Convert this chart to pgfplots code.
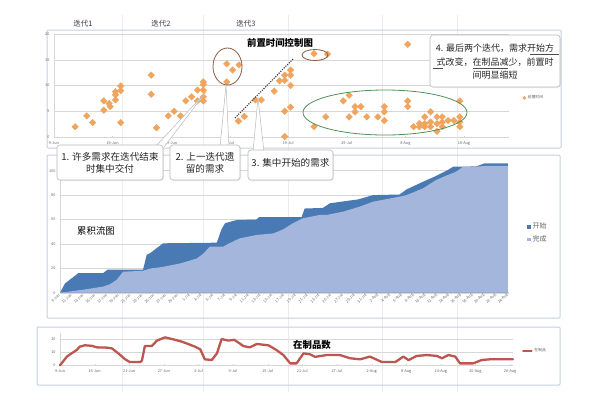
\documentclass[border=0pt]{standalone}
\usepackage{pgfplots}
\pgfplotsset{compat=1.18}
\usepackage{fontspec}
\setmainfont{Noto Sans CJK SC}
\usetikzlibrary{shadows}
\definecolor{orng}{RGB}{240,165,95}
\definecolor{dblue}{RGB}{74,122,180}
\definecolor{lblue}{RGB}{164,182,220}
\definecolor{wipred}{RGB}{190,86,80}
\definecolor{panelc}{RGB}{196,210,224}
\definecolor{gridc}{RGB}{215,215,215}
\definecolor{tickc}{RGB}{100,100,100}
\definecolor{boxc}{RGB}{185,185,185}
\definecolor{ellg}{RGB}{80,145,85}
\definecolor{ellr}{RGB}{140,90,70}

\pgfplotsset{
  panelaxis/.style={
    scale only axis,
    axis lines=left,
    axis line style={draw=gridc, -},
    ymajorgrids, grid style={draw=gridc, line width=0.5pt},
    tick label style={font=\fontsize{3.8}{4}\selectfont, text=tickc},
    /pgf/number format/assume math mode=true,
    xtick style={draw=gridc}, ytick style={draw=none},
    major tick length=2pt,
    clip=false,
  }
}

\begin{document}
\begin{tikzpicture}
\path[use as bounding box] (0pt,0pt) rectangle (600pt,-400pt);
\fill[white] (0pt,0pt) rectangle (600pt,-400pt);
\begin{scope}[x=1pt,y=-1pt]
 \foreach \xx in {122,203,288,382,457} \draw[gray!15, line width=0.6pt] (\xx,15) -- (\xx,392);
 \draw[panelc, line width=1pt, rounded corners=1pt] (47,30) rectangle (561,148);
 \draw[panelc, line width=1pt, rounded corners=1pt] (47,155) rectangle (560,318);
 \draw[panelc, line width=1pt, rounded corners=1pt] (37,327) rectangle (560,385);
 \node[font=\fontsize{7.5}{8}\selectfont, text=black!75] at (83,24) {迭代1};
 \node[font=\fontsize{7.5}{8}\selectfont, text=black!75] at (161,24) {迭代2};
 \node[font=\fontsize{7.5}{8}\selectfont, text=black!75] at (246,24) {迭代3};
\end{scope}

% ---------- top: lead time control chart ----------
\begin{axis}[panelaxis, at={(54pt,-137pt)}, anchor=south west,
  width=455pt, height=103pt, xmin=0, xmax=77.7, ymin=0, ymax=20,
  xtick={0,10,...,70},
  xticklabels={9-Jun,19-Jun,29-Jun,9-Jul,19-Jul,29-Jul,8-Aug,18-Aug},
  ytick={0,5,...,20},
  legend style={at={(1.03,0.38)}, anchor=west, draw=none, fill=none,
    font=\fontsize{3.8}{4}\selectfont, text=tickc, inner sep=0pt},
  legend image post style={mark size=1.1pt}]
\addplot[only marks, mark=square*, mark size=2.3pt, mark options={fill=orng, draw=orng, rotate=45}] coordinates {
(3.6,2.0) (5.6,4.1) (6.6,2.8) (8.5,7.0) (8.5,5.2) (9.4,6.5) (9.6,5.9) (10.5,7.2) (10.5,8.8) (10.5,8.2)
(11.4,9.9) (11.4,9.0) (11.4,2.8) (16.6,12.0) (16.6,8.3) (17.5,1.8) (19.5,4.1) (20.5,5.0) (21.6,4.1)
(22.5,7.0) (23.5,7.8) (24.5,9.1) (24.5,7.0) (25.5,10.7) (25.5,10.2) (25.5,9.1) (25.5,7.8) (25.5,7.0)
(29.5,14.2) (30.5,13.0) (29.5,10.7) (31.6,14.0) (31.5,3.1) (32.5,4.0) (34.4,7.2) (35.4,7.2) (37.6,8.9)
(38.5,10.9) (39.4,12.0) (39.4,11.0) (40.4,13.0) (40.4,12.0) (40.4,10.0) (40.4,5.8) (39.4,5.0) (39.4,0.1)
(44.4,16.2) (46.7,16.1) (60.4,18.0) (44.4,2.0) (46.4,3.9) (49.4,7.0) (50.4,8.1) (50.4,3.9) (51.4,5.9)
(51.4,4.9) (52.4,5.9) (53.4,3.9) (55.3,3.9) (56.4,5.9) (56.4,4.9) (56.4,3.2) (60.4,7.0) (60.4,5.9)
(61.4,2.0) (62.4,2.6) (62.4,2.0) (63.3,3.9) (63.3,2.6) (63.3,2.0) (64.3,4.9) (64.3,2.9) (64.3,2.0)
(65.4,3.9) (65.4,2.6) (65.4,1.1) (66.3,3.9) (66.3,2.9) (66.3,2.0) (67.3,3.2) (68.3,3.2) (69.3,7.0)
(69.3,3.9) (69.3,2.9) (69.3,2.0)};
\addlegendentry{前置时间}
\end{axis}

% ---------- middle: cumulative flow ----------
\begin{axis}[panelaxis, at={(60pt,-292.7pt)}, anchor=south west,
  width=448pt, height=134.2pt, xmin=0, xmax=76, ymin=0, ymax=110,
  xtick={0,2,...,76},
  xticklabels={9-Jun,11-Jun,13-Jun,15-Jun,17-Jun,19-Jun,21-Jun,23-Jun,25-Jun,27-Jun,29-Jun,1-Jul,3-Jul,5-Jul,7-Jul,9-Jul,11-Jul,13-Jul,15-Jul,17-Jul,19-Jul,21-Jul,23-Jul,25-Jul,27-Jul,29-Jul,31-Jul,2-Aug,4-Aug,6-Aug,8-Aug,10-Aug,12-Aug,14-Aug,16-Aug,18-Aug,20-Aug,22-Aug,24-Aug},
  xticklabel style={rotate=45, anchor=east, inner sep=0.8pt},
  ytick={0,20,...,100},
  legend image code/.code={\fill[#1] (0pt,-1.9pt) rectangle (3.8pt,1.9pt);},
  legend style={at={(1.035,0.444)}, anchor=west, draw=none, fill=none,
    font=\fontsize{7}{8}\selectfont, text=tickc, row sep=1.5pt},
  legend cell align=left]
\addplot[fill=dblue, draw=none] coordinates {
(0,0) (0.85,7.6) (1.5,10) (3.1,16) (7.3,16) (8.1,19) (14.1,19) (14.7,31) (15.3,32.5) (17.5,40.5)
(26.6,41) (27.4,52) (28,57) (30,59.6) (33.3,60) (33.8,62) (41,62) (41.5,69) (44.6,69.5) (45.8,73.3)
(48,74.8) (50.6,76.5) (53.1,80) (57.6,80.5) (58.8,84.7) (61.6,91) (63.8,95.7) (65.8,100.6)
(66.7,103.3) (70.6,103.5) (72,106) (76,106)} \closedcycle;
\addlegendentry{开始}
\addplot[fill=lblue, draw=none] coordinates {
(0,0) (1.7,1) (4,2.5) (7.3,5) (8.5,7) (9.6,10.5) (10.7,17.2) (14.1,18) (15.3,19.8) (17.5,21.2)
(20.3,23.9) (23.2,28) (24.3,32) (25.4,37.7) (27.7,37.7) (28.5,40) (30.5,44.6) (33.3,47.3) (36.2,48.6)
(37.9,52) (39.5,56.9) (41.2,61) (44,63.7) (45.2,63.7) (48,66.4) (50.8,70.5) (53.1,74.6) (54.5,75.9)
(57.6,78.7) (58.8,80) (61.6,85.6) (63.8,92.4) (65.8,96.5) (67.2,99.2) (68.4,103.3) (70.6,103.3)
(72.3,104) (76,104)} \closedcycle;
\addlegendentry{完成}
\end{axis}

% ---------- bottom: WIP ----------
\begin{axis}[panelaxis, at={(60pt,-365.3pt)}, anchor=south west,
  width=453pt, height=32.5pt, xmin=0, xmax=78.5, ymin=0, ymax=25,
  xtick={0,6,...,78},
  xticklabels={9-Jun,15-Jun,21-Jun,27-Jun,3-Jul,9-Jul,15-Jul,21-Jul,27-Jul,2-Aug,8-Aug,14-Aug,20-Aug,26-Aug},
  ytick={0,10,20},
  legend image code/.code={\draw[#1, line width=1.2pt] (0pt,0pt) -- (9pt,0pt);},
  legend style={at={(1.02,0.44)}, anchor=west, draw=none, fill=none,
    font=\fontsize{3.8}{4}\selectfont, text=tickc, inner sep=0pt}]
\addplot[wipred, line width=2.3pt, line join=round, line cap=round] coordinates {
(0,0) (1.2,6.7) (2,9.2) (2.9,11.8) (3.4,14.3) (4.3,15.4) (5.5,15) (6.4,13.8) (8.1,13.6) (9,13)
(10.1,9.2) (11.3,4.6) (12.1,2.5) (13.9,2.5) (14.2,3.6) (14.7,14.8) (15.9,14.8) (16.8,19) (18.2,21.5)
(19.6,20) (21.1,18.2) (22.2,16.4) (23.4,14.3) (24.3,12.3) (25.1,4.6) (26.3,4.1) (27.2,9.2) (28,20.2)
(29.2,19) (30.2,19.6) (31.8,14.8) (32.9,13.8) (34.1,16.4) (36.1,15.4) (37.5,11.8) (38.7,7.9)
(39.9,1.5) (41,1.5) (42.2,9.2) (43.3,8.5) (44.2,6.5) (46.2,7.9) (48.5,7.9) (50.3,5.4) (52,4.6)
(53.7,6.7) (55.8,2.5) (58.1,2.5) (59.5,6.7) (60.4,4) (61.8,7.2) (63.6,7.9) (65.3,7.2) (66.2,5.4)
(67.3,7.9) (68.5,6.7) (69.3,1.5) (71.6,1.5) (73.1,4.1) (74.5,4.6) (78.5,4.6)};
\addlegendentry{在制品}
\end{axis}

% ---------- annotations ----------
\begin{scope}[x=1pt,y=-1pt]
 \node[font=\fontsize{9.4}{10}\selectfont\bfseries] at (280,43) {前置时间控制图};
 \node[font=\fontsize{9.4}{10}\selectfont] at (96,231) {累积流图};
 \node[font=\fontsize{9.4}{10}\selectfont\bfseries] at (312,345) {在制品数};
 \draw[black!75, dash pattern=on 1.2pt off 1.2pt, line width=1.1pt] (235,118) -- (293,59);
 \draw[ellr, line width=0.8pt] (227.5,66.5) ellipse [x radius=14.5, y radius=18.5];
 \draw[ellr, line width=0.8pt] (315,55) ellipse [x radius=13, y radius=5.5];
 \draw[ellg, line width=0.8pt] (385,112.5) ellipse [x radius=82, y radius=22.5];
 % pointers
 \filldraw[fill=white, draw=boxc, line width=0.5pt] (155,147) -- (206,92) -- (164,147);
 \filldraw[fill=white, draw=boxc, line width=0.5pt] (220,147) -- (226,85) -- (229,147);
 \filldraw[fill=white, draw=boxc, line width=0.5pt] (253,152) -- (258,98) -- (264,152);
 % boxes
 \filldraw[fill=white, draw=boxc, line width=0.6pt, rounded corners=3pt,
   drop shadow={opacity=0.15, shadow xshift=1pt, shadow yshift=-1pt}] (57,145) rectangle (163,180);
 \filldraw[fill=white, draw=boxc, line width=0.6pt, rounded corners=3pt,
   drop shadow={opacity=0.15, shadow xshift=1pt, shadow yshift=-1pt}] (170,145) rectangle (240,180);
 \filldraw[fill=white, draw=boxc, line width=0.6pt, rounded corners=3pt,
   drop shadow={opacity=0.15, shadow xshift=1pt, shadow yshift=-1pt}] (248,150) rectangle (333,180);
 \filldraw[fill=white, draw=boxc, line width=0.6pt, rounded corners=3pt,
   drop shadow={opacity=0.15, shadow xshift=1pt, shadow yshift=-1pt}] (430,35) rectangle (560,87);
 \begin{scope}[every node/.style={font=\fontsize{9.6}{10}\selectfont, text=black!85, inner sep=0pt}]
  \node at (110,156.7) {1. 许多需求在迭代结束};
  \node at (110,169.3) {时集中交付};
  \node at (205,156.7) {2. 上一迭代遗};
  \node at (205,169.3) {留的需求};
  \node at (290.5,163) {3. 集中开始的需求};
 \end{scope}
 \begin{scope}[every node/.style={font=\fontsize{9}{10}\selectfont, text=black!85, inner sep=0pt}]
  \node at (495,48) {4. 最后两个迭代，需求开始方};
  \node at (495,62) {式改变，在制品减少，前置时};
  \node at (495,75.5) {间明显缩短};
 \end{scope}
 \draw[black!70, line width=0.5pt] (530,54) -- (559,54);
 \draw[black!70, line width=0.5pt] (433,68) -- (443,68);
 \draw[black!70, line width=0.5pt] (473,68) -- (508,68);
\end{scope}
\end{tikzpicture}
\end{document}
